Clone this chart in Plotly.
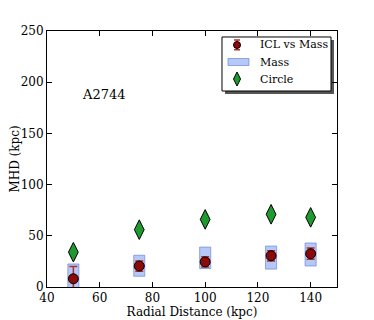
import plotly.graph_objects as go

radius = [50, 75, 100, 125, 140]
icl = [8, 20.5, 24.5, 30.5, 32.5]
icl_err = [12, 5, 5, 5, 5.5]
mass_lo = [-6, 10.5, 18, 17.5, 20.5]
mass_hi = [22.5, 31, 39, 40, 43]
circle = [34, 56, 66, 71, 68]

legend_names = ["ICL vs Mass", "Mass", "Circle"]

font = "DejaVu Serif, Liberation Serif, serif"
red = "#8b0a0a"
err_red = "#b03030"
blue_fill = "rgba(110,145,235,0.5)"
blue_line = "rgba(90,120,220,0.6)"
green = "#1f9a2f"

fig = go.Figure()

fig.add_trace(go.Bar(
    x=radius, y=[h - l for h, l in zip(mass_hi, mass_lo)], base=mass_lo,
    width=4.2, name="Mass",
    marker=dict(color=blue_fill, line=dict(color=blue_line, width=1)),
))
fig.add_trace(go.Scatter(
    x=radius, y=icl, mode="markers", name="ICL vs Mass",
    error_y=dict(type="data", array=icl_err, color=err_red, thickness=1.5, width=4),
    marker=dict(symbol="circle", size=10, color=red, line=dict(color="black", width=1)),
))
fig.add_trace(go.Scatter(
    x=radius, y=circle, mode="markers", name="Circle",
    marker=dict(symbol="diamond-tall", size=14, color=green, line=dict(color="black", width=1)),
))

fig.add_annotation(x=52.5, y=188, text="A2744", showarrow=False, xanchor="left",
                   font=dict(family=font, size=13, color="black"))

# --- hand-made legend (matplotlib style box with shadow)
lx0, lx1, ly0, ly1 = 0.6034, 0.9793, 0.7656, 0.9766
fig.add_shape(type="rect", xref="paper", yref="paper",
              x0=lx0 + 0.0103, x1=lx1 + 0.0103, y0=ly0 - 0.0117, y1=ly1 - 0.0117,
              fillcolor="#555555", line=dict(width=0), layer="below")
fig.add_shape(type="rect", xref="paper", yref="paper", x0=lx0, x1=lx1, y0=ly0, y1=ly1,
              fillcolor="white", line=dict(color="black", width=1), layer="below")

rows = [0.852, 0.537, 0.222]
fig.add_trace(go.Scatter(
    x=[0.138], y=[rows[0]], xaxis="x2", yaxis="y2", mode="markers", showlegend=False,
    hoverinfo="skip",
    error_y=dict(type="constant", value=0.09, color=err_red, thickness=1.5, width=3),
    marker=dict(symbol="circle", size=7, color=red, line=dict(color="black", width=1)),
))
fig.add_shape(type="rect", xref="x2", yref="y2", x0=0.055, x1=0.248,
              y0=rows[1] - 0.065, y1=rows[1] + 0.065,
              fillcolor=blue_fill, line=dict(color=blue_line, width=1))
fig.add_trace(go.Scatter(
    x=[0.138], y=[rows[2]], xaxis="x2", yaxis="y2", mode="markers", showlegend=False,
    hoverinfo="skip",
    marker=dict(symbol="diamond-tall", size=10, color=green, line=dict(color="black", width=1)),
))
for name, ry in zip(legend_names, rows):
    fig.add_annotation(x=0.33, y=ry, xref="x2", yref="y2", text=name, showarrow=False,
                       xanchor="left", yanchor="middle",
                       font=dict(family=font, size=11, color="black"))

axis = dict(showline=True, linecolor="black", linewidth=1, mirror="ticks", ticks="inside",
            ticklen=5, tickcolor="black", showgrid=False, zeroline=False, automargin=False,
            tickfont=dict(family=font, size=12, color="black"))

# page has an 8px body margin, so the figure is shifted by 8px
fig.update_layout(
    width=358, height=312,
    margin=dict(l=39, r=29, t=23, b=33),
    paper_bgcolor="white", plot_bgcolor="rgba(0,0,0,0)",
    barmode="overlay",
    showlegend=False,
    xaxis=dict(range=[40, 150], dtick=20, title=dict(text="Radial Distance (kpc)", standoff=2,
               font=dict(family=font, size=12, color="black")), **axis),
    yaxis=dict(range=[0, 250], dtick=50, title=dict(text="MHD (kpc)", standoff=4,
               font=dict(family=font, size=12, color="black")), **axis),
    xaxis2=dict(domain=[lx0, lx1], range=[0, 1], anchor="y2", visible=False),
    yaxis2=dict(domain=[ly0, ly1], range=[0, 1], anchor="x2", visible=False),
)

fig.write_html("out.html")
